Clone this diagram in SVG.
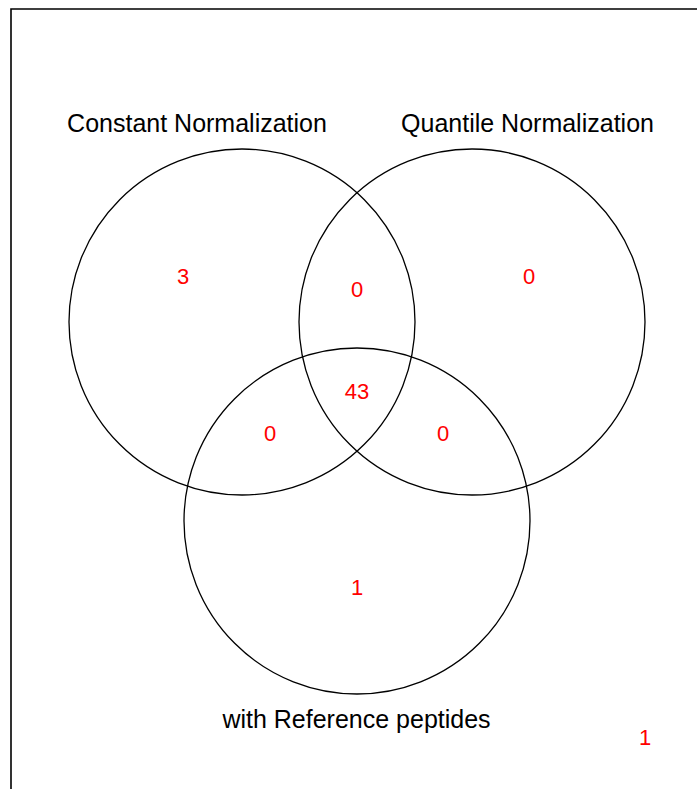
<svg xmlns="http://www.w3.org/2000/svg" width="697" height="789" viewBox="0 0 697 789">
  <style>
    .set { fill: none; stroke: #000; stroke-width: 1.3; }
    .title { font-family: "Liberation Sans", Arial, sans-serif; font-size: 25px; fill: #000; text-anchor: middle; }
    .count { font-family: "Liberation Sans", Arial, sans-serif; font-size: 22px; fill: #ff0000; text-anchor: middle; }
  </style>
  <rect width="697" height="789" fill="#fff"/>
  <!-- plot frame -->
  <path d="M11 789 V9 H697" fill="none" stroke="#000" stroke-width="1.6"/>

  <g id="constant">
    <circle class="set" cx="242" cy="322" r="173"/>
    <text class="title" x="197" y="132">Constant Normalization</text>
  </g>
  <g id="quantile">
    <circle class="set" cx="472" cy="322" r="173"/>
    <text class="title" x="527.5" y="132">Quantile Normalization</text>
  </g>
  <g id="reference">
    <circle class="set" cx="357" cy="521" r="173"/>
    <text class="title" x="356.5" y="728">with Reference peptides</text>
  </g>

  <g id="counts">
    <text class="count" x="183" y="284">3</text>
    <text class="count" x="357" y="297">0</text>
    <text class="count" x="529" y="284">0</text>
    <text class="count" x="357" y="399">43</text>
    <text class="count" x="270" y="441">0</text>
    <text class="count" x="443" y="441">0</text>
    <text class="count" x="357" y="595">1</text>
    <text class="count" x="645" y="745">1</text>
  </g>
</svg>
